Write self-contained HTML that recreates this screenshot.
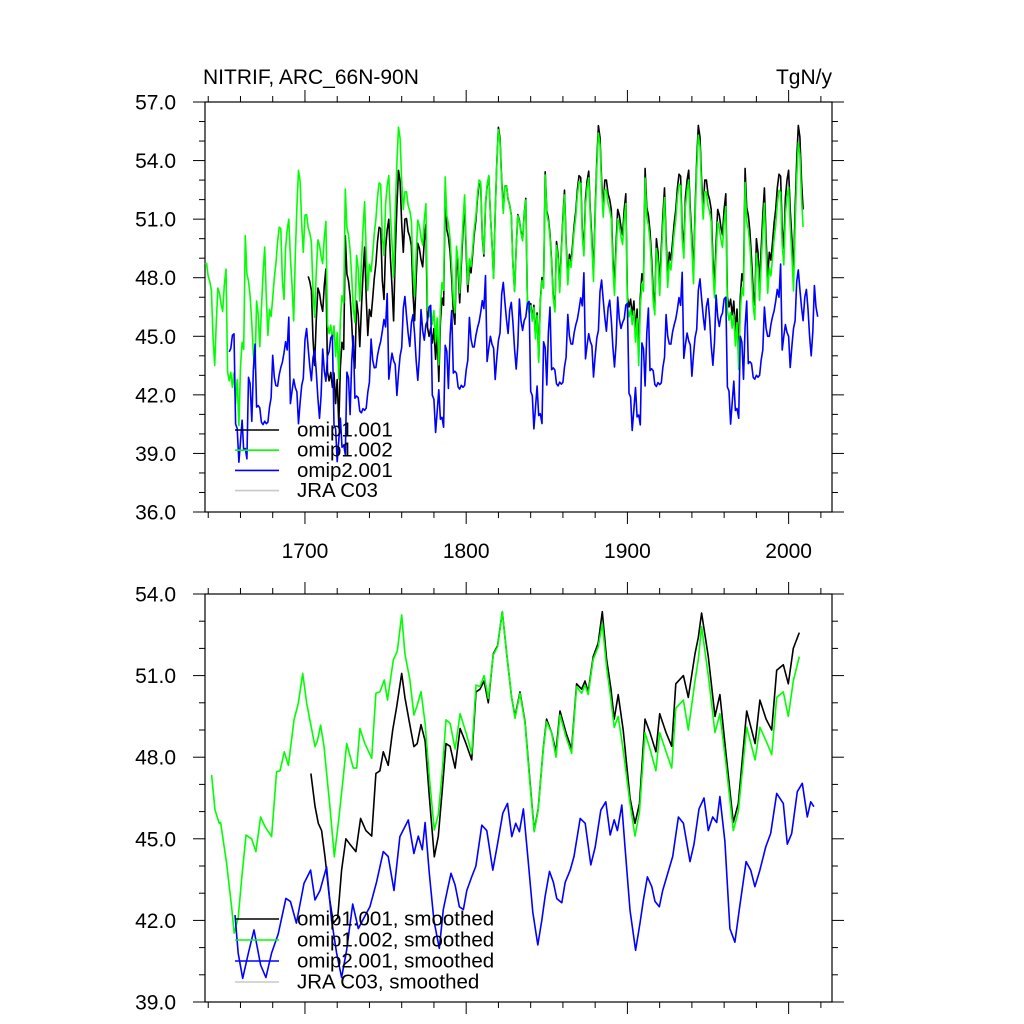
<!DOCTYPE html>
<html><head><meta charset="utf-8"><style>
html,body{margin:0;padding:0;background:#fff;}
svg{display:block;font-family:"Liberation Sans",Arial,sans-serif;}
</style></head><body>
<svg id="chart" width="1024" height="1024" viewBox="0 0 1024 1024">
<text x="203" y="84" font-size="21">NITRIF, ARC_66N-90N</text>
<text x="832" y="84" font-size="21" text-anchor="end">TgN/y</text>
<g id="top"></g>
<g id="bot"></g>
</svg>
<script>
// ---- top panel data (annual) ----
const omip1Template = [53.0,53.0,52.3,52.0,51.5,49.0,47.6,49.8,51.5,51.2,50.6,50.2,51.5,52.3,47.0,46.5,46.9,46.1,46.8,45.2,46.4,44.0,47.0,48.2,47.8,53.6,51.6,51.2,50.4,49.0,47.3,46.6,50.0,49.3,47.6,49.5,51.2,52.6,50.0,48.0,49.3,48.9,49.8,50.8,51.5,52.6,53.3,53.2,50.5,49.5,52.1,53.0,53.5,51.5,50.0,48.2,51.5,54.0,55.8,55.2,53.0,51.5];
const omip1CycleStarts = [1638,1700,1762,1824,1886,1948];
const black001StartOff = [null,-4.3,-2.0,-0.3,0,0];
const black001EndOff   = [null,-2.2,0,0,0,0];
const black001FirstYear = 1702;
const green002StartOff = [-4.3,-1.8,-0.6,-0.3,-0.5,-0.6];
const green002EndOff   = [-2.2,0,-0.2,-0.4,-0.5,-0.9];
const omip2Template = [46.0,46.2,46.9,47.0,42.4,42.2,40.5,41.6,42.7,41.2,41.3,40.8,45.0,44.7,42.8,45.5,46.8,43.6,43.7,43.6,42.9,42.8,43.0,42.9,43.0,43.8,44.3,46.5,45.4,45.0,45.0,45.6,46.0,46.3,46.8,47.4,47.0,48.7,44.3,45.0,45.6,45.2,45.0,43.4,44.5,45.4,45.8,47.8,48.4,47.4,46.5,45.8,47.0,47.4,46.4,45.0,44.0,45.2,47.6,46.5,46.0];
const omip2CycleStarts = [1653,1714,1775,1836,1897,1958];
const blue001StartOff = [-1.8,-2.0,-0.4,-0.2,-0.3,0];
const blue001EndOff   = [-3.3,-1.2,-0.7,-0.6,-0.5,0];
const topYTicks = [36,39,42,45,48,51,54,57];
const topYLabels = ["36.0","39.0","42.0","45.0","48.0","51.0","54.0","57.0"];
const xTickYears = [1700,1800,1900,2000];
const xTickLabels = ["1700","1800","1900","2000"];
// ---- bottom panel data (smoothed) ----
const blackSmYears = [1703.7,1706.2,1708.3,1710.3,1712.4,1715.1,1717.6,1720.3,1722.7,1725.4,1727.9,1731.6,1734.5,1737.8,1741.4,1744.0,1746.5,1748.6,1751.6,1754.4,1756.9,1760.0,1762.0,1764.7,1767.6,1769.6,1772.0,1774.5,1777.1,1780.2,1782.7,1785.2,1787.5,1790.0,1793.1,1796.2,1799.9,1803.4,1806.1,1808.6,1811.1,1813.7,1816.8,1819.5,1822.4,1825.1,1828.2,1830.3,1833.4,1836.5,1839.6,1842.2,1844.7,1847.8,1849.9,1853.0,1855.7,1858.2,1861.9,1865.4,1868.5,1871.6,1873.7,1875.7,1878.8,1881.9,1884.4,1887.1,1889.8,1891.8,1894.3,1897.4,1901.6,1904.7,1907.5,1910.9,1914,1917.7,1920,1924,1927.5,1930,1934.7,1937.8,1941.9,1944,1946,1950.2,1954.3,1957.4,1961,1965.7,1968.8,1974,1979.2,1982.2,1986,1989.5,1992.6,1996.7,1999.8,2002.9,2006.6];
const blackSmValues = [47.4,46.2,45.57,45.3,44.34,42.87,41.9,42.1,43.85,45.0,44.8,44.53,45.75,45.3,45.1,47.4,47.5,48.2,47.7,49.0,49.86,51.08,50.2,49.3,48.39,48.5,49.2,48.6,46.55,44.34,45.1,46.8,48.5,48.4,47.6,49.06,48.5,47.9,50.4,50.5,50.8,50.0,51.8,52.1,53.35,51.8,50.2,49.5,50.4,49.3,47.1,45.3,46.1,48.3,49.4,48.9,48.2,49.7,48.9,48.3,50.7,50.5,50.8,50.4,51.7,52.2,53.35,51.6,50.5,49.4,50.3,49.0,46.5,45.57,46.3,49.4,48.9,48.2,49.6,48.9,48.4,50.7,51.0,50.2,51.8,52.4,53.3,51.7,49.5,50.3,48.2,45.6,46.3,49.7,48.5,50.1,49.4,49.0,51.2,51.4,50.7,52.0,52.58];
const greenSmYears = [1642.1,1644.2,1646.8,1647.7,1651.4,1654.5,1656.1,1658.6,1660.7,1663.4,1666.9,1669.6,1672.5,1675.2,1679.3,1682.4,1684.5,1687.2,1689.7,1693.2,1695.9,1698.6,1701.1,1706.2,1707.7,1709.7,1711.8,1715.5,1718.2,1720.7,1723.8,1725.9,1730,1732.1,1734.1,1737.2,1741.4,1744.0,1746.5,1749.2,1751.2,1754.8,1757.3,1760.0,1762.0,1765.1,1767.6,1769.6,1772.0,1774.5,1777.1,1780.2,1782.7,1785.2,1787.5,1790.0,1793.1,1796.2,1799.9,1803.4,1806.1,1808.6,1811.1,1813.7,1816.8,1819.5,1822.4,1825.1,1828.2,1830.3,1833.4,1836.5,1839.6,1842.2,1844.7,1847.8,1849.9,1853.0,1855.7,1858.2,1861.9,1865.4,1868.5,1871.6,1873.7,1875.7,1878.8,1881.9,1884.4,1887.1,1889.8,1891.8,1894.3,1897.4,1901.6,1904.7,1907.5,1910.9,1914,1917.7,1920,1924,1927.5,1930,1934.7,1937.8,1941.9,1944,1946,1950.2,1954.3,1957.4,1961,1965.7,1968.8,1974,1979.2,1982.2,1986,1989.5,1992.6,1996.7,1999.8,2002.9,2006.6];
const greenSmValues = [47.35,46.06,45.57,45.6,44.1,42.5,41.53,42.1,43.5,45.14,45.0,44.53,45.8,45.45,45.08,47.47,47.5,48.2,47.7,49.37,49.98,51.08,49.98,48.39,48.6,49.18,48.4,46.18,44.34,45.57,47.28,48.5,47.6,47.6,49.06,48.5,47.96,50.35,50.4,50.84,50.1,51.57,51.9,53.23,51.8,50.84,49.55,49.9,50.41,49.25,47.28,45.32,45.9,47.5,49.37,49.25,48.3,49.6,48.9,48.14,50.65,50.6,51.0,50.16,51.76,52.06,53.35,51.8,50.2,49.43,50.35,49.25,47.0,45.26,46.05,48.26,49.3,48.9,48.0,49.55,48.75,48.14,50.6,50.35,50.65,50.3,51.6,52.06,52.92,51.3,50.1,49.1,49.5,48.26,46.3,45.1,46.0,48.9,48.3,47.5,48.9,48.2,47.6,49.8,50.1,49.0,50.8,51.6,52.8,51.0,48.9,49.6,47.8,45.3,46.0,49.1,47.9,49.1,48.6,48.1,50.2,50.4,49.5,50.8,51.7];
const blueSmYears = [1656.6,1658.6,1661.4,1664.9,1668.4,1672.5,1675.8,1679.3,1683.4,1688.2,1691.0,1694.7,1699.4,1703.5,1706.2,1709.3,1713.4,1716.5,1719.6,1722.7,1725.8,1729.6,1733.1,1736.6,1740.3,1744.4,1748.6,1751.6,1755.2,1758.9,1764.1,1767.6,1770.3,1772.8,1774.5,1777.1,1780.0,1783.3,1785.8,1788.3,1790.6,1793.1,1795.8,1798.3,1800.4,1803.4,1806.0,1809.7,1812.8,1816.5,1819.4,1822.7,1825.6,1828.3,1830.7,1833.0,1835.5,1838.6,1841.3,1844.4,1846.9,1849.0,1851.7,1854.1,1856.2,1859.3,1861.4,1864.5,1866.9,1870.7,1873.8,1877.3,1880.0,1883.5,1886.6,1889.3,1891.8,1893.8,1896.5,1898.5,1901.6,1905.1,1907.8,1909.9,1912.4,1915.1,1917.1,1919.8,1921.9,1924.4,1928.1,1931.6,1934.7,1938.8,1941.3,1944.4,1947.5,1950.2,1952.9,1955.4,1957.4,1960.5,1963.6,1966.7,1969.4,1973.6,1976.5,1979.1,1982.2,1985.8,1988.9,1992.6,1996.7,1999.2,2001.9,2005.4,2008.5,2011.6,2013.7,2015.7];
const blueSmValues = [42.2,40.79,39.87,40.8,41.65,40.36,39.9,40.8,41.5,42.81,42.7,41.9,43.36,43.85,42.75,43.1,43.97,42.0,40.8,39.9,40.9,42.6,41.7,42.1,42.5,43.4,44.53,44.35,43.1,45.08,45.69,44.46,45.1,44.6,45.6,43.73,42.0,40.97,42.4,43.1,43.73,43.3,42.5,42.4,43.1,43.6,44.0,45.5,45.3,43.85,44.8,45.94,46.3,45.08,45.57,45.26,46.1,44.1,42.3,41.1,42.0,42.9,43.8,43.4,42.8,42.65,43.4,43.85,44.35,45.75,45.57,44.04,44.7,46.05,46.36,45.14,45.7,45.3,46.24,44.7,42.38,40.9,41.9,42.75,43.6,43.24,42.7,42.5,43.1,43.6,44.35,45.8,45.57,44.16,44.8,46.1,46.5,45.3,45.8,45.6,46.55,44.9,41.7,41.2,42.4,44.16,43.85,43.24,43.85,44.7,45.2,46.67,46.3,44.8,45.2,46.73,47.04,45.8,46.36,46.18];
const botYTicks = [39,42,45,48,51,54];
const botYLabels = ["39.0","42.0","45.0","48.0","51.0","54.0"];

const NS = "http://www.w3.org/2000/svg";
const X0 = 205, X1 = 832, yrMin = 1638.0, yrMax = 2026.9;
function xScale(yr){ return X0 + (yr - yrMin) * (X1 - X0) / (yrMax - yrMin); }
function mk(tag, attrs, parent){ const e = document.createElementNS(NS, tag); for (const k in attrs) e.setAttribute(k, attrs[k]); parent.appendChild(e); return e; }

function buildCycleSeries(template, starts, sOff, eOff, firstYear, lastYear){
  const pts = [];
  for (let c = 0; c < starts.length; c++){
    if (sOff[c] === null) continue;
    const n = template.length;
    for (let k = 0; k < n; k++){
      const yr = starts[c] + k;
      if (yr < firstYear || yr > lastYear) continue;
      const f = k / (n - 1);
      pts.push([yr, template[k] + sOff[c] + (eOff[c] - sOff[c]) * f]);
    }
  }
  return pts;
}

function drawAxes(g, top, bot, vmin, vmax, ticks, labels, showXLabels){
  const yScale = v => bot - (v - vmin) * (bot - top) / (vmax - vmin);
  const frame = mk('rect', {x:X0, y:top, width:X1-X0, height:bot-top, fill:'none', stroke:'#000', 'stroke-width':1.2}, g);
  
  
  for (let v = vmin; v <= vmax; v++){
    const y = yScale(v);
    const major = ticks.indexOf(v) >= 0;
    const len = major ? 12 : 6;
    mk('line', {x1:X0-len, x2:X0, y1:y, y2:y, stroke:'#000', 'stroke-width':1}, g);
    mk('line', {x1:X1, x2:X1+len, y1:y, y2:y, stroke:'#000', 'stroke-width':1}, g);
  }
  ticks.forEach((v, i) => {
    const t = mk('text', {x:176, y:yScale(v)+7.5, 'font-size':21, 'text-anchor':'end'}, g);
    t.textContent = labels[i];
    
    
  });
  for (let yr = 1640; yr <= 2020; yr += 20){
    const x = xScale(yr);
    const major = xTickYears.indexOf(yr) >= 0;
    const len = major ? 12 : 6;
    mk('line', {x1:x, x2:x, y1:bot, y2:bot+len, stroke:'#000', 'stroke-width':1}, g);
    mk('line', {x1:x, x2:x, y1:top-len, y2:top, stroke:'#000', 'stroke-width':1}, g);
  }
  if (showXLabels){
    xTickYears.forEach((yr, i) => {
      const t = mk('text', {x:xScale(yr), y:558, 'font-size':21, 'text-anchor':'middle'}, g);
      t.textContent = xTickLabels[i];
      
      
    });
  }
  return yScale;
}

function drawLine(g, pts, yScale, color, name){
  const d = pts.map(p => xScale(p[0]).toFixed(1) + ',' + yScale(p[1]).toFixed(1)).join(' ');
  const pl = mk('polyline', {points:d, fill:'none', stroke:color, 'stroke-width':1.6, 'stroke-linejoin':'round'}, g);
  
  
}

function drawLegend(g, y0, dy, labels){
  const colors = ['#000000','#00ff00','#0000ff','#c8c8c8'];
  labels.forEach((lab, i) => {
    const y = y0 + i * dy;
    const ln = mk('line', {x1:235, x2:279, y1:y, y2:y, stroke:colors[i], 'stroke-width':1.6}, g);
    
    
    const t = mk('text', {x:297, y:y+6.5, 'font-size':20.5}, g);
    t.textContent = lab;
    
    
  });
}

// top panel
const gTop = document.getElementById('top');
const ysTop = drawAxes(gTop, 102, 512, 36, 57, topYTicks, topYLabels, true);
drawLine(gTop, buildCycleSeries(omip1Template, omip1CycleStarts, black001StartOff, black001EndOff, black001FirstYear, 2009), ysTop, '#000000', 'omip1-001-line');
drawLine(gTop, buildCycleSeries(omip1Template, omip1CycleStarts, green002StartOff, green002EndOff, 1638, 2009), ysTop, '#00ff00', 'omip1-002-line');
drawLine(gTop, buildCycleSeries(omip2Template, omip2CycleStarts, blue001StartOff, blue001EndOff, 1653, 2018), ysTop, '#0000ff', 'omip2-001-line');
drawLegend(gTop, 430, 20.2, ['omip1.001','omip1.002','omip2.001','JRA C03']);

// bottom panel
const gBot = document.getElementById('bot');
const ysBot = drawAxes(gBot, 594, 1002, 39, 54, botYTicks, botYLabels, false);
drawLine(gBot, blackSmYears.map((y,i)=>[y, blackSmValues[i]]), ysBot, '#000000', 'omip1-001-smoothed-line');
drawLine(gBot, greenSmYears.map((y,i)=>[y, greenSmValues[i]]), ysBot, '#00ff00', 'omip1-002-smoothed-line');
drawLine(gBot, blueSmYears.map((y,i)=>[y, blueSmValues[i]]), ysBot, '#0000ff', 'omip2-001-smoothed-line');
drawLegend(gBot, 919, 21, ['omip1.001, smoothed','omip1.002, smoothed','omip2.001, smoothed','JRA C03, smoothed']);
</script>
</body></html>
